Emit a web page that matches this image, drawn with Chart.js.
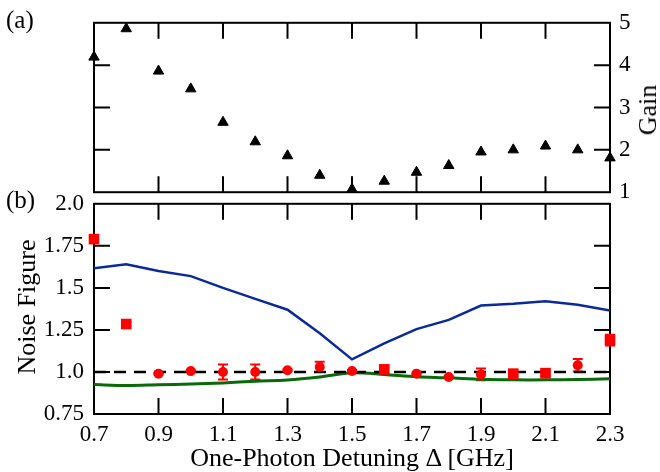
<!DOCTYPE html>
<html><head><meta charset="utf-8">
<script src="https://cdn.jsdelivr.net/npm/chart.js@4.4.0/dist/chart.umd.min.js"></script>
<style>
body{margin:0;background:#fff;width:660px;height:472px;overflow:hidden;position:relative;}
canvas{position:absolute;left:0;}
#ca{top:0}
#cb{top:180px}
.lbl{position:absolute;font-family:"Liberation Serif",serif;color:#000;white-space:nowrap;line-height:1;}
.c{transform:translate(-50%,-50%);}
.r{transform:translate(-50%,-50%) rotate(-90deg);}
</style></head><body>
<canvas id="ca" width="660" height="215"></canvas>
<canvas id="cb" width="660" height="292"></canvas>
<div class="lbl" style="left:6px;top:7px;font-size:25px">(a)</div>
<div class="lbl" style="left:6px;top:187px;font-size:25px">(b)</div>
<div class="lbl r" style="left:648px;top:110px;font-size:26px">Gain</div>
<div class="lbl r" style="left:27px;top:307px;font-size:26px">Noise Figure</div>
<div class="lbl c" style="left:352px;top:458px;font-size:26px">One-Photon Detuning Δ [GHz]</div>
<script>
// ---- data ----
const detuning = [0.7,0.8,0.9,1.0,1.1,1.2,1.3,1.4,1.5,1.6,1.7,1.8,1.9,2.0,2.1,2.2,2.3];
const gain = [4.19,4.86,3.86,3.44,2.65,2.19,1.86,1.40,1.07,1.26,1.47,1.63,1.95,2.00,2.09,2.00,1.81];
const nfMeasured = [1.79,1.285,0.99,1.005,1.0,1.0,1.01,1.03,1.006,1.015,0.99,0.97,0.985,0.99,0.993,1.04,1.19];
const nfError = [0.02,0.012,0.005,0.005,0.045,0.045,0.005,0.03,0.005,0.025,0.005,0.005,0.035,0.015,0.015,0.037,0.032];
const nfMarker = ['rect','rect','circle','circle','circle','circle','circle','circle','circle','rect','circle','circle','circle','rect','rect','circle','rect'];
const nfModelBlue = [1.616,1.64,1.60,1.57,1.50,1.435,1.37,1.23,1.075,1.17,1.255,1.31,1.395,1.405,1.42,1.40,1.365];
const nfModelGreen = [0.925,0.92,0.924,0.928,0.935,0.945,0.952,0.97,0.995,0.985,0.972,0.965,0.956,0.953,0.953,0.955,0.96];
const shotNoiseLimit = 1.0;
const xTickLabels = [0.7,0.9,1.1,1.3,1.5,1.7,1.9,2.1,2.3];
const xInnerTicks = [0.9,1.1,1.3,1.5,1.7,1.9,2.1];
const gainTicks = [1,2,3,4,5];
const nfTickValues = [0.75,1.0,1.25,1.5,1.75,2.0];
const nfTickLabels = ['0.75','1.0','1.25','1.5','1.75','2.0'];

const FONT = {family:'"Liberation Serif", serif', size:23};
const pts = arr => detuning.map((x,i)=>({x, y:arr[i]}));
const fix = s => function(scale){ if(scale.isHorizontal()) scale.height = s; else scale.width = s; };
const hidden = (extra) => Object.assign({display:true, grid:{display:false, drawTicks:false}, border:{display:false}, ticks:{display:false}}, extra);

const framePlugin = {
  id:'frame',
  beforeDatasetsDraw(chart, args, opts){
    const {ctx, chartArea:a} = chart;
    const xs = chart.scales.x, ys = chart.scales[opts.yId];
    ctx.save();
    ctx.strokeStyle='#000'; ctx.lineWidth=2;
    ctx.strokeRect(a.left, a.top, a.right-a.left, a.bottom-a.top);
    const L = 16;
    ctx.beginPath();
    xInnerTicks.forEach(v=>{const p=xs.getPixelForValue(v);
      ctx.moveTo(p,a.bottom); ctx.lineTo(p,a.bottom-L);
      ctx.moveTo(p,a.top); ctx.lineTo(p,a.top+L);});
    opts.yTicks.forEach(v=>{const p=ys.getPixelForValue(v);
      ctx.moveTo(a.left,p); ctx.lineTo(a.left+L,p);
      ctx.moveTo(a.right,p); ctx.lineTo(a.right-L,p);});
    ctx.stroke();
    if (opts.errors) {
      ctx.strokeStyle='#ff0000'; ctx.lineWidth=2;
      ctx.beginPath();
      detuning.forEach((x,i)=>{
        const px = xs.getPixelForValue(x);
        const t = ys.getPixelForValue(nfMeasured[i]+nfError[i]);
        const b = ys.getPixelForValue(nfMeasured[i]-nfError[i]);
        ctx.moveTo(px,t); ctx.lineTo(px,b);
        ctx.moveTo(px-5,t); ctx.lineTo(px+5,t);
        ctx.moveTo(px-5,b); ctx.lineTo(px+5,b);
      });
      ctx.stroke();
    }
    ctx.restore();
  }
};

new Chart(document.getElementById('ca'), {
  type:'scatter',
  data:{datasets:[{
    data: pts(gain), yAxisID:'y', pointStyle:'triangle', pointRadius:6,
    backgroundColor:'#000', borderColor:'#000', borderWidth:1, clip:false, showLine:false
  }]},
  options:{
    responsive:false, animation:false, devicePixelRatio:1,
    layout:{padding:0},
    plugins:{legend:{display:false}, tooltip:{enabled:false}, frame:{yId:'y', yTicks:[2,3,4]}},
    scales:{
      x: hidden({type:'linear', position:'bottom', min:0.7, max:2.3, afterFit:fix(20)}),
      xTop: hidden({type:'linear', position:'top', min:0.7, max:2.3, afterFit:fix(22)}),
      yL: hidden({type:'linear', position:'left', min:1, max:5, afterFit:fix(94)}),
      y: {type:'linear', position:'right', min:1, max:5,
        grid:{display:false, drawTicks:false}, border:{display:false},
        afterBuildTicks: s => { s.ticks = gainTicks.map(v=>({value:v})); },
        ticks:{font:FONT, color:'#000', padding:9, callback:v=>String(v)},
        afterFit:fix(50)}
    }
  },
  plugins:[framePlugin]
});

new Chart(document.getElementById('cb'), {
  type:'scatter',
  data:{datasets:[
    {data: pts(nfMeasured), pointStyle:nfMarker, pointRadius:nfMarker.map(m=>m==='rect'?7.5:5), backgroundColor:'#ff0000', borderColor:'#ff0000', borderWidth:0, showLine:false, clip:false},
    {data:[{x:0.7,y:shotNoiseLimit},{x:2.3,y:shotNoiseLimit}], showLine:true, pointRadius:0, borderColor:'#000', borderWidth:2.5, borderDash:[12,8]},
    {data: pts(nfModelBlue), showLine:true, pointRadius:0, borderColor:'#0a2a9c', borderWidth:2.5},
    {data: pts(nfModelGreen), showLine:true, pointRadius:0, borderColor:'#0a6a0a', borderWidth:3, tension:0.3}
  ]},
  options:{
    responsive:false, animation:false, devicePixelRatio:1,
    layout:{padding:0},
    plugins:{legend:{display:false}, tooltip:{enabled:false}, frame:{yId:'y', yTicks:[1.0,1.25,1.5,1.75], errors:true}},
    scales:{
      x: {type:'linear', position:'bottom', min:0.7, max:2.3,
        grid:{display:false, drawTicks:false}, border:{display:false},
        afterBuildTicks: s => { s.ticks = xTickLabels.map(v=>({value:v})); },
        ticks:{font:FONT, color:'#000', padding:7, autoSkip:false, maxRotation:0, callback:v=>v.toFixed(1)},
        afterFit:fix(58)},
      xTop: hidden({type:'linear', position:'top', min:0.7, max:2.3, afterFit:fix(20)}),
      y: {type:'linear', position:'left', min:0.75, max:2.0,
        grid:{display:false, drawTicks:false}, border:{display:false},
        afterBuildTicks: s => { s.ticks = nfTickValues.map(v=>({value:v})); },
        ticks:{font:FONT, color:'#000', padding:10, callback:v=>{const i=nfTickValues.findIndex(t=>Math.abs(t-v)<1e-6); return i>=0?nfTickLabels[i]:'';}},
        afterFit:fix(94)},
      yR: hidden({type:'linear', position:'right', min:0.75, max:2.0, afterFit:fix(50)})
    }
  },
  plugins:[framePlugin]
});
</script>
</body></html>
